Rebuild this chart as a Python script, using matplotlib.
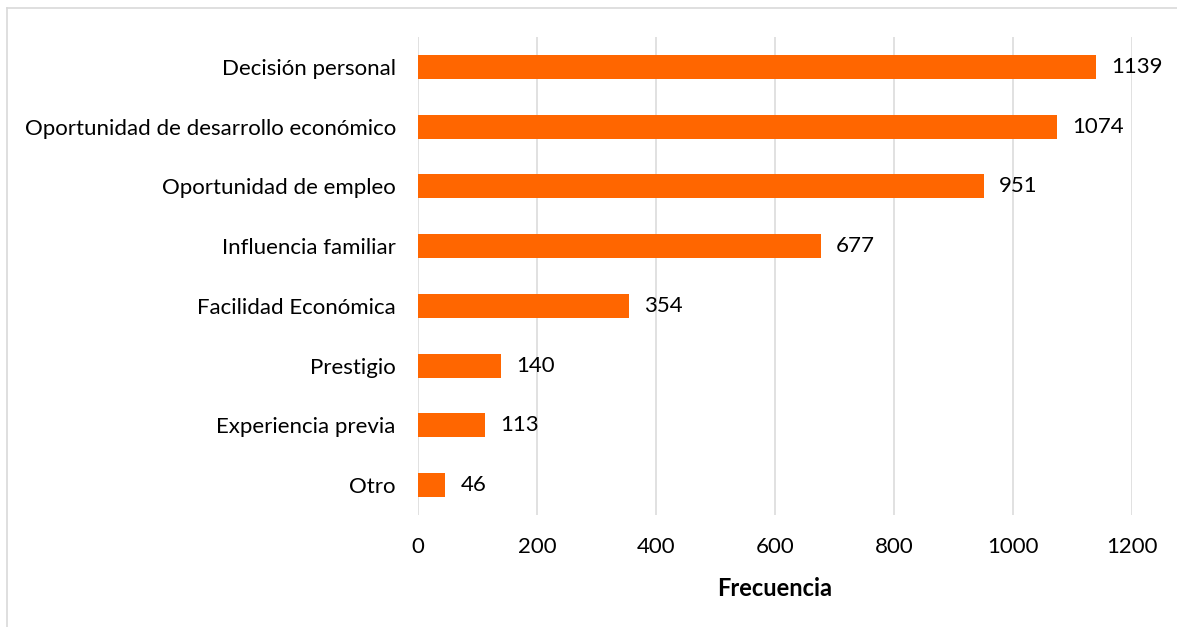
import matplotlib.pyplot as plt
from matplotlib.lines import Line2D

# categories, top to bottom as in the chart
motivos = ['Decisión personal', 'Oportunidad de desarrollo económico', 'Oportunidad de empleo',
           'Influencia familiar', 'Facilidad Económica', 'Prestigio', 'Experiencia previa', 'Otro']
frecuencia = [1139, 1074, 951, 677, 354, 140, 113, 46]
ticks_x = [0, 200, 400, 600, 800, 1000, 1200]

plt.rcParams['font.family'] = ['Lato', 'DejaVu Sans']

fig = plt.figure(figsize=(11.77, 6.27), dpi=100)
ax = fig.add_axes([418/1177, 1-515/627, (1132-418)/1177, (515-37)/627])

pos = list(range(len(motivos)))[::-1]
bars = ax.barh(pos, frecuencia, height=0.4, color='#FF6600', zorder=3)

for p, v in zip(pos, frecuencia):
    ax.annotate(str(v), (v, p), xytext=(11, 0), textcoords='offset points',
                va='center', ha='left', fontsize=16, color='#000000')

ax.set_xlim(0, 1200)
ax.set_ylim(-0.5, len(motivos) - 0.5)
ax.set_xticks(ticks_x)
ax.set_yticks(pos)
ax.set_yticklabels(motivos)
ax.tick_params(axis='both', length=0, labelsize=16, colors='#000000')
ax.tick_params(axis='y', pad=16)
ax.tick_params(axis='x', pad=16)
ax.grid(axis='x', color='#D9D9D9', linewidth=1.1, zorder=0)
for s in ax.spines.values():
    s.set_visible(False)
ax.set_xlabel('Frecuencia', fontsize=17, fontweight='bold', labelpad=14)

# light frame around the chart area (top and left edges visible)
fig.add_artist(Line2D([7/1177, 7/1177], [0, 1-8/627], color='#D9D9D9', linewidth=1.2))
fig.add_artist(Line2D([7/1177, 1], [1-8/627, 1-8/627], color='#D9D9D9', linewidth=1.2))

fig.savefig('out.png', dpi=100)
